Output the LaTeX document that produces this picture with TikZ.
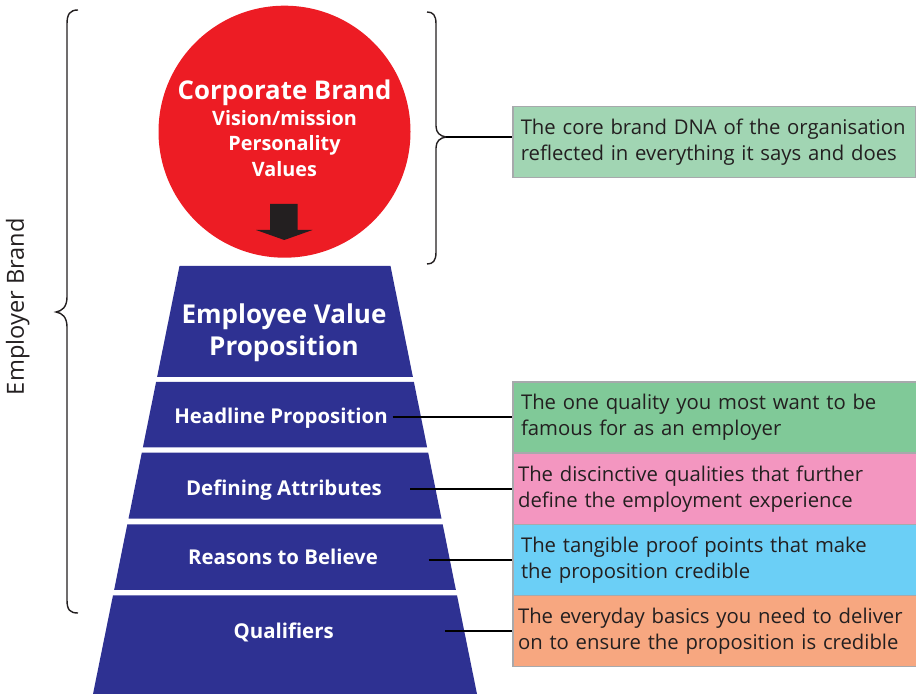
\documentclass[tikz,border=0pt]{standalone}
\usepackage{fontspec}
\setmainfont{Open Sans}
\definecolor{evpblue}{HTML}{2E3192}
\definecolor{brandred}{HTML}{ED1C24}
\definecolor{ink}{HTML}{231F20}
\definecolor{boxgrey}{HTML}{A7A9AC}
\definecolor{coregreen}{HTML}{A1D5B3}
\definecolor{headgreen}{HTML}{80C998}
\definecolor{attrpink}{HTML}{F396C0}
\definecolor{proofblue}{HTML}{6BCFF6}
\definecolor{basicpeach}{HTML}{F7A780}
\begin{document}
\begin{tikzpicture}[x=0.5pt,y=-0.5pt,
  band/.style={fill=evpblue},
  bandlabel/.style={text=white, inner sep=0, anchor=base,
    font=\bfseries\fontsize{10.2}{12}\selectfont},
  circlelabel/.style={text=white, inner sep=0, anchor=base,
    font=\bfseries\fontsize{9.9}{12}\selectfont},
  infobox/.style={draw=boxgrey, line width=0.75pt, anchor=west,
    minimum height=35.6pt, inner ysep=0pt, align=left, text=ink,
    font=\fontsize{10.15}{13}\selectfont},
  bracepen/.style={draw=ink, line width=0.7pt},
  link/.style={draw=black, line width=1pt}]
\useasboundingbox (0,0) rectangle (916,694);

% corporate brand circle with its downward arrow
\node[circle, fill=brandred, minimum size=126pt, inner sep=0] (cbrand) at (284.5,131.7) {};
\node[circlelabel, font=\bfseries\fontsize{12.9}{16}\selectfont] (cbtitle) at (284.5,100) {Corporate Brand};
\node[circlelabel] (cbvision) at (284.5,126) {Vision/mission};
\node[circlelabel] (cbperson) at (284.5,150.7) {Personality};
\node[circlelabel] (cbvalues) at (284.5,176.7) {Values};
\fill[ink] (270,204) -- (297.5,204) -- (297.5,230) -- (312.5,230) -- (284.3,240)
  -- (256,230) -- (270,230) -- cycle;

% employee value proposition pyramid
\fill[band] (179.5,266) -- (390.5,266) -- (412.9,377) -- (157.1,377) -- cycle;
\fill[band] (156.1,382) -- (413.9,382) -- (427.1,447.3) -- (142.9,447.3) -- cycle;
\fill[band] (141.8,452.7) -- (428.2,452.7) -- (441.5,518.7) -- (128.5,518.7) -- cycle;
\fill[band] (127.3,524.3) -- (442.7,524.3) -- (455.9,590) -- (114.1,590) -- cycle;
\fill[band] (113,595.3) -- (457,595.3) -- (477,694) -- (93,694) -- cycle;

\node[bandlabel, font=\bfseries\fontsize{13}{16}\selectfont] (evp1) at (284,324) {Employee Value};
\node[bandlabel, font=\bfseries\fontsize{13}{16}\selectfont] (evp2) at (284,356) {Proposition};
\node[bandlabel] (headline) at (281,424) {Headline Proposition};
\node[bandlabel] (defining) at (284,495.3) {Defining Attributes};
\node[bandlabel] (reasons) at (283,565) {Reasons to Believe};
\node[bandlabel] (qualifiers) at (283.7,639) {Qualifiers};

% braces
\draw[bracepen] (78,10) .. controls (70,10) and (67,14) .. (67,24) -- (67,297)
  .. controls (67,307) and (62,311) .. (56,312)
  .. controls (62,313) and (67,317) .. (67,327) -- (67,600)
  .. controls (67,610) and (70,613) .. (78,613);
\draw[bracepen] (427,12) .. controls (433,12) and (436,15) .. (436,24) -- (436,126)
  .. controls (436,133) and (440,136) .. (446,137)
  .. controls (440,138) and (436,141) .. (436,148) -- (436,252)
  .. controls (436,261) and (433,264) .. (427,264);
\coordinate (rtip) at (446,137);
\node[rotate=90, text=ink, inner sep=0, anchor=base, font=\fontsize{11.8}{14}\selectfont]
  (employer) at (24,306.7) {Employer Brand};

% explanatory boxes
\node[infobox, fill=coregreen, minimum height=35.4pt, text width=193.4pt, inner xsep=3.85pt]
  (core) at (512.3,142.1)
  {The core brand DNA of the organisation\\reflected in everything it says and does};
\node[infobox, fill=headgreen, text width=195pt, inner xsep=4pt] (boxhead) at (512.3,417.5)
  {The one quality you most want to be\\famous for as an employer};
\node[infobox, fill=attrpink, text width=198pt, inner xsep=2.5pt] (boxattr) at (512.3,488.8)
  {The discinctive qualities that further\\define the employment experience};
\node[infobox, fill=proofblue, text width=195pt, inner xsep=4pt] (boxproof) at (512.3,560)
  {The tangible proof points that make\\the proposition credible};
\node[infobox, fill=basicpeach, text width=198pt, inner xsep=2.5pt] (boxbasic) at (512.3,630.9)
  {The everyday basics you need to deliver\\on to ensure the proposition is credible};

% connectors
\coordinate (lhead) at (392.7,417.5);
\coordinate (lattr) at (410,488.8);
\coordinate (lproof) at (428.7,560);
\coordinate (lbasic) at (445.3,630.9);
\draw[link] (rtip) -- (rtip -| core.west);
\draw[link] (lhead) -- (boxhead.west);
\draw[link] (lattr) -- (boxattr.west);
\draw[link] (lproof) -- (boxproof.west);
\draw[link] (lbasic) -- (boxbasic.west);
\end{tikzpicture}
\end{document}
